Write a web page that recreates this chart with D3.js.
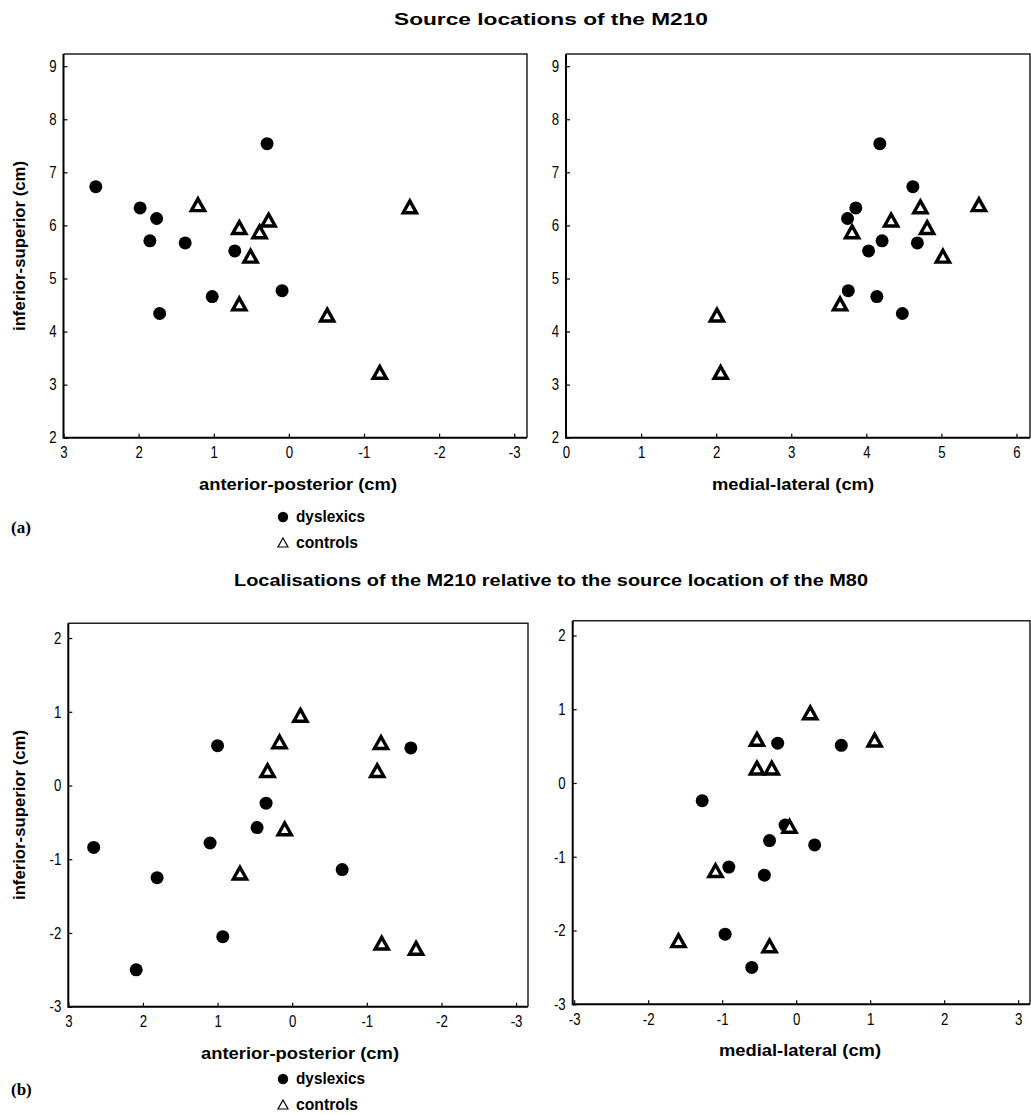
<!DOCTYPE html>
<html>
<head>
<meta charset="utf-8">
<script src="https://cdn.jsdelivr.net/npm/d3@7"></script>
<style>
  body { margin: 0; background: #fff; }
  svg { display: block; }
  .tick text { font-family: "Liberation Sans", Arial, sans-serif; font-size: 16.5px; fill: #000; }
  .lab { font-family: "Liberation Sans", Arial, sans-serif; font-weight: bold; font-size: 17px; fill: #000; }
</style>
</head>
<body>
<script>
// (a) absolute source locations of the M210 (cm)
const supDys = [7.54, 6.73, 6.33, 6.13, 5.71, 5.67, 5.52, 4.77, 4.66, 4.34]
const apDys  = [0.29, 2.57, 1.98, 1.76, 1.85, 1.38, 0.72, 0.09, 1.02, 1.72]
const mlDys  = [4.18, 4.62, 3.86, 3.75, 4.21, 4.68, 4.03, 3.76, 4.14, 4.48]

const supCon = [6.36, 6.32, 6.07, 5.93, 5.85, 5.39, 4.49, 4.28, 3.2]
const apCon  = [1.21, -1.61, 0.27, 0.66, 0.39, 0.51, 0.66, -0.51, -1.21]
const mlCon  = [5.50, 4.72, 4.33, 4.81, 3.81, 5.02, 3.65, 2.01, 2.06]

// (b) M210 relative to the M80 (cm)
const relSupDys = [0.54, 0.51, -0.24, -0.57, -0.78, -0.84, -1.14, -1.25, -2.05, -2.5]
const relApDys  = [1.0, -1.59, 0.35, 0.47, 1.10, 2.66, -0.67, 1.81, 0.93, 2.09]
const relMlDys  = [-0.25, 0.61, -1.27, -0.15, -0.36, 0.25, -0.91, -0.43, -0.96, -0.60]

const relSupCon = [0.93, 0.57, 0.56, 0.18, 0.18, -0.61, -1.21, -2.16, -2.23]
const relApCon  = [-0.11, 0.17, -1.19, 0.33, -1.14, 0.10, 0.70, -1.20, -1.66]
const relMlCon  = [0.19, -0.53, 1.06, -0.53, -0.33, -0.09, -1.09, -1.59, -0.36]

// tick labels
const supTicksA = [2, 3, 4, 5, 6, 7, 8, 9]
const supTicksB = [-3, -2, -1, 0, 1, 2]
const apTicks = [3, 2, 1, 0, -1, -2, -3]
const mlTicksA = [0, 1, 2, 3, 4, 5, 6]
const mlTicksB = [-3, -2, -1, 0, 1, 2, 3]

const titles = ["Source locations of the M210", "Localisations of the M210 relative to the source location of the M80"]
const xLabels = ["anterior-posterior (cm)", "medial-lateral (cm)"]
const yLabel = "inferior-superior (cm)"
const groups = ["dyslexics", "controls"]

const w = 1031
const h = 1115

const svg = d3.select("body")
              .append("svg")
              .attr("width", w)
              .attr("height", h)

const zip = (xs, ys) => xs.map((x, i) => [x, ys[i]])

// squeeze a text element horizontally (the original uses a narrow face)
const squeeze = (sel, k) => sel.each(function() {
  const len = this.getComputedTextLength()
  d3.select(this).attr("textLength", len * k).attr("lengthAdjust", "spacingAndGlyphs")
})

const triPath = "M0,-7.5 L6.6,4.3 L-6.6,4.3 Z"

const drawPanel = (p) => {
  const x = d3.scaleLinear().domain(p.xDom).range([p.left, p.right])
  const y = d3.scaleLinear().domain(p.yDom).range([p.bottom, p.top])

  const g = svg.append("g")

  g.append("g")
    .attr("transform", `translate(0, ${p.bottom})`)
    .call(d3.axisBottom(x).tickValues(p.xTicks).tickFormat(d => String(d)).tickSizeInner(-4).tickSizeOuter(0).tickPadding(9))
    .call(a => a.select(".domain").remove())

  g.append("g")
    .attr("transform", `translate(${p.left}, 0)`)
    .call(d3.axisLeft(y).tickValues(p.yTicks).tickFormat(d => String(d)).tickSizeInner(-4).tickSizeOuter(0).tickPadding(7))
    .call(a => a.select(".domain").remove())

  g.selectAll(".tick line").attr("stroke", "#000").attr("stroke-width", 1.2)
  squeeze(g.selectAll(".tick text"), 0.8)

  // frame: heavy left/bottom, lighter top/right
  g.append("path")
    .attr("d", `M${p.left},${p.top} H${p.right} V${p.bottom}`)
    .attr("fill", "none").attr("stroke", "#222").attr("stroke-width", 1.5)
  g.append("path")
    .attr("d", `M${p.left},${p.top} V${p.bottom} H${p.right}`)
    .attr("fill", "none").attr("stroke", "#000").attr("stroke-width", 2)

  g.selectAll("circle.dys")
    .data(p.dys)
    .enter()
    .append("circle")
    .attr("class", "dys")
    .attr("cx", d => x(d[0]))
    .attr("cy", d => y(d[1]))
    .attr("r", 6.5)
    .attr("fill", "#000")

  g.selectAll("path.con")
    .data(p.con)
    .enter()
    .append("path")
    .attr("class", "con")
    .attr("d", triPath)
    .attr("transform", d => `translate(${x(d[0])}, ${y(d[1])})`)
    .attr("fill", "#fff")
    .attr("stroke", "#000")
    .attr("stroke-width", 3.4)
    .attr("stroke-linejoin", "miter")

  g.append("text")
    .attr("class", "lab")
    .attr("x", p.labX)
    .attr("y", p.bottom + 52)
    .attr("text-anchor", "middle")
    .attr("textLength", p.labW)
    .attr("lengthAdjust", "spacingAndGlyphs")
    .text(p.xLabel)
}

const drawRow = (r) => {
  svg.append("text")
    .attr("class", "lab")
    .attr("x", 551)
    .attr("y", r.titleY)
    .attr("text-anchor", "middle")
    .attr("font-size", 18)
    .attr("textLength", r.titleW)
    .attr("lengthAdjust", "spacingAndGlyphs")
    .text(r.title)

  svg.append("text")
    .attr("class", "lab")
    .attr("transform", `translate(25, ${r.yMid}) rotate(-90)`)
    .attr("text-anchor", "middle")
    .attr("textLength", 170)
    .attr("lengthAdjust", "spacingAndGlyphs")
    .text(yLabel)

  r.panels.forEach(drawPanel)

  // legend
  const leg = svg.append("g").attr("transform", `translate(283, ${r.legY})`)
  leg.append("circle").attr("cx", 0).attr("cy", 0).attr("r", 5.2).attr("fill", "#000")
  leg.append("path")
    .attr("d", "M0,-5 L5,4 L-5,4 Z")
    .attr("transform", "translate(0, 26)")
    .attr("fill", "none").attr("stroke", "#000").attr("stroke-width", 1.2)
  leg.selectAll("text")
    .data(groups)
    .enter()
    .append("text")
    .attr("class", "lab")
    .attr("font-size", 16)
    .attr("x", 13)
    .attr("y", (d, i) => i * 26 + 5)
    .attr("textLength", (d, i) => [69, 62][i])
    .attr("lengthAdjust", "spacingAndGlyphs")
    .text(d => d)

  svg.append("text")
    .attr("x", 11)
    .attr("y", r.legY + 16)
    .attr("font-family", "Liberation Serif, Times New Roman, serif")
    .attr("font-weight", "bold")
    .attr("font-size", 17)
    .text(r.tag)
}

drawRow({
  title: titles[0], titleY: 25, titleW: 314, yMid: 246, legY: 517, tag: "(a)",
  panels: [
    { left: 63.5, right: 527, top: 54, bottom: 437.7, xDom: [3, -3.17], yDom: [2, 9.23],
      xTicks: apTicks, yTicks: supTicksA, dys: zip(apDys, supDys), con: zip(apCon, supCon),
      xLabel: xLabels[0], labX: 298, labW: 198 },
    { left: 566, right: 1030, top: 54, bottom: 437.7, xDom: [0, 6.18], yDom: [2, 9.23],
      xTicks: mlTicksA, yTicks: supTicksA, dys: zip(mlDys, supDys), con: zip(mlCon, supCon),
      xLabel: xLabels[1], labX: 793, labW: 162 }
  ]
})

drawRow({
  title: titles[1], titleY: 586, titleW: 634, yMid: 815, legY: 1079, tag: "(b)",
  panels: [
    { left: 68.3, right: 528, top: 623.3, bottom: 1006.7, xDom: [3, -3.16], yDom: [-3, 2.2],
      xTicks: apTicks, yTicks: supTicksB, dys: zip(relApDys, relSupDys), con: zip(relApCon, relSupCon),
      xLabel: xLabels[0], labX: 300, labW: 198 },
    { left: 572.7, right: 1030, top: 620.7, bottom: 1004.3, xDom: [-3.02, 3.16], yDom: [-3, 2.2],
      xTicks: mlTicksB, yTicks: supTicksB, dys: zip(relMlDys, relSupDys), con: zip(relMlCon, relSupCon),
      xLabel: xLabels[1], labX: 800, labW: 162 }
  ]
})
</script>
</body>
</html>
